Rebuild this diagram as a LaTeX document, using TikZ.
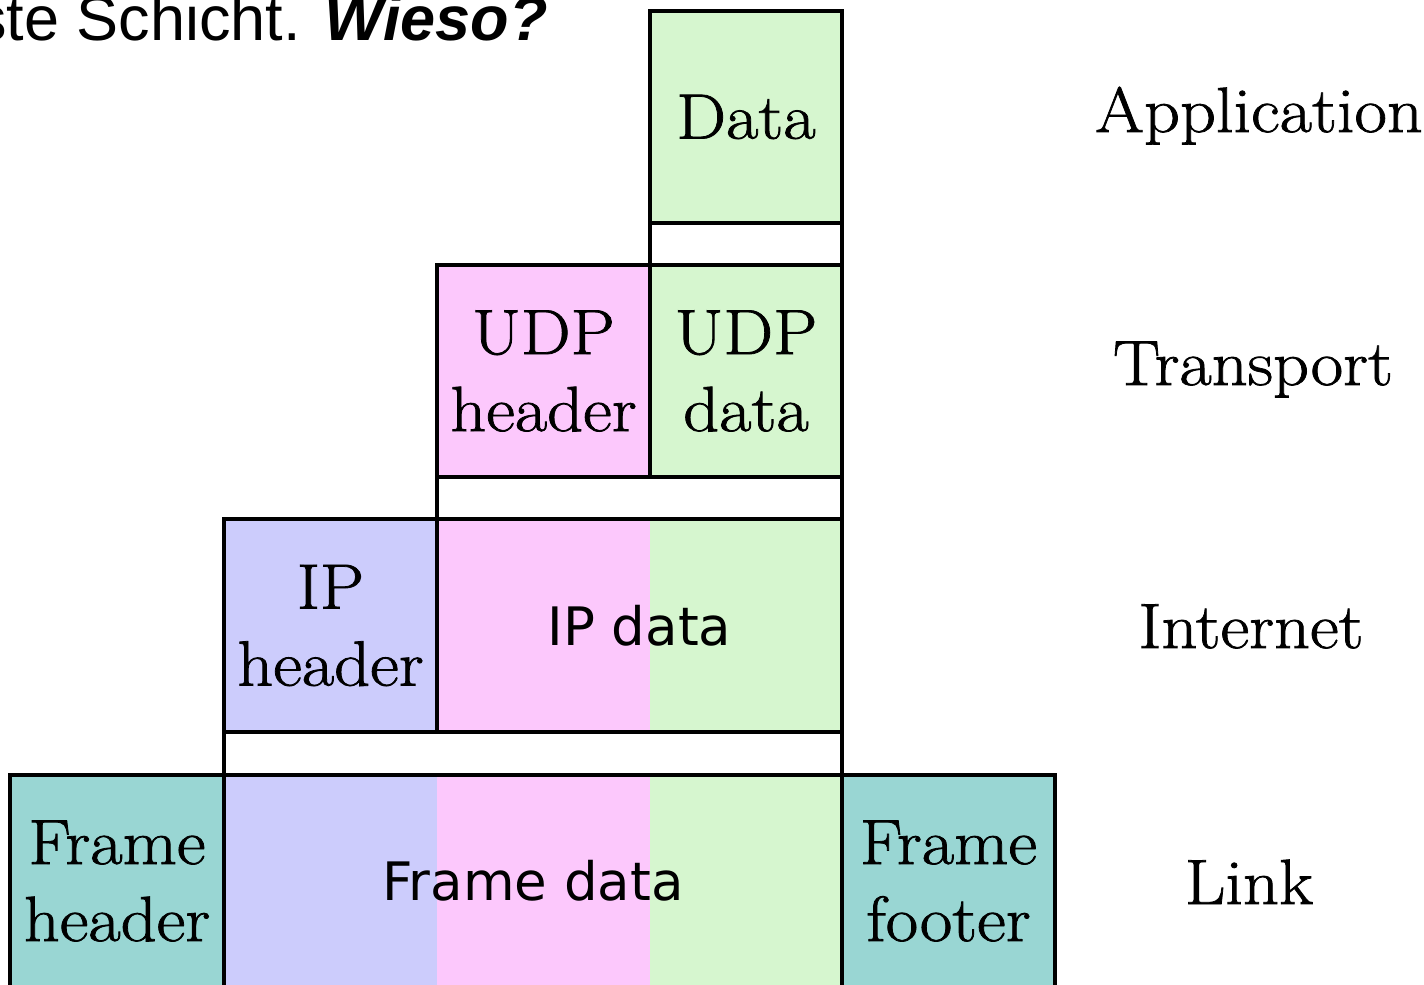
\documentclass[tikz,border=0pt]{standalone}
\usepackage{fontspec}
\newfontfamily\arialfont{Liberation Sans}
\newfontfamily\dvsans{DejaVu Sans}
\newfontfamily\wideserif[FakeStretch=1.1,FakeBold=1.2]{Latin Modern Roman}
\newcommand\serifbig{\wideserif\fontsize{64}{77}\selectfont}
\newcommand\sansbig{\dvsans\fontsize{53}{62}\selectfont}
\definecolor{cgreen}{HTML}{D6F6CF}
\definecolor{cpink}{HTML}{FCC8FC}
\definecolor{clav}{HTML}{CCCCFC}
\definecolor{cteal}{HTML}{99D6D3}
\begin{document}
\begin{tikzpicture}[x=1pt,y=-1pt,
  box/.style={draw=black, line width=3.5pt, inner sep=0pt, outer sep=0pt, anchor=north west, align=center, font=\serifbig},
  gapbox/.style={draw=black, line width=3.5pt, fill=white, inner sep=0pt, outer sep=0pt, anchor=north west},
  layer/.style={anchor=base, font=\serifbig, inner sep=0pt}]
\useasboundingbox (0,0) rectangle (1424,985);
\clip (0,0) rectangle (1424,985);
% title fragment
\node[anchor=base east, inner sep=0pt, font=\arialfont\fontsize{63}{70}\selectfont] (title) at (548,40) {ste Schicht. \textbf{\textit{Wieso?}}};
% application
\node[box, fill=cgreen, minimum width=192, minimum height=212] (data) at (650,11) {Data};
\node[gapbox, minimum width=192, minimum height=42] (gapA) at (650,223) {};
% transport
\node[box, fill=cpink, minimum width=213, minimum height=212] (udph) at (437,265) {UDP\\header};
\node[box, fill=cgreen, minimum width=192, minimum height=212] (udpd) at (650,265) {UDP\\data};
\node[gapbox, minimum width=405, minimum height=42] (gapB) at (437,477) {};
% internet
\fill[cpink] (437,519) rectangle (650,732);
\fill[cgreen] (650,519) rectangle (842,732);
\node[box, fill=clav, minimum width=213, minimum height=213] (iph) at (224,519) {IP\\header};
\node[box, font=\sansbig, minimum width=405, minimum height=213] (ipd) at (437,519) {IP data};
\node[gapbox, minimum width=618, minimum height=43] (gapC) at (224,732) {};
% link
\fill[clav] (224,775) rectangle (437,990);
\fill[cpink] (437,775) rectangle (650,990);
\fill[cgreen] (650,775) rectangle (842,990);
\node[box, fill=cteal, minimum width=214, minimum height=212] (fh) at (10,775) {Frame\\header};
\node[box, font=\sansbig, minimum width=618, minimum height=212] (fd) at (224,775) {Frame data};
\node[box, fill=cteal, minimum width=213, minimum height=212] (ff) at (842,775) {Frame\\footer};
% layer names
\node[layer] (lapp) at (1259,132) {Application};
\node[layer] (ltra) at (1253,385) {Transport};
\node[layer] (lint) at (1251,648) {Internet};
\node[layer] (llnk) at (1249,904) {Link};
\end{tikzpicture}
\end{document}
